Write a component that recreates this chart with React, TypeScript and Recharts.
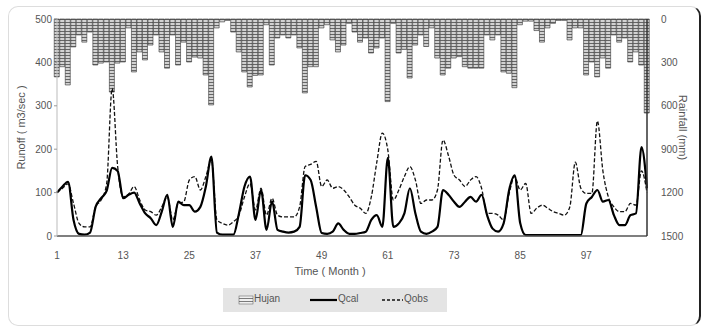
import { Bar, ComposedChart, Line, XAxis, YAxis } from 'recharts';

const months = Array.from({ length: 108 }, (_, i) => i + 1);
const monthTicks = [1, 13, 25, 37, 49, 61, 73, 85, 97];
const runoffTicks = [0, 100, 200, 300, 400, 500];
const rainTicks = [0, 300, 600, 900, 1200, 1500];

// rainfall (mm), hangs from the top on the reversed right axis
const hujan = [
  400, 330, 456, 193, 110, 160, 90, 318, 305, 297, 505, 305,
  297, 62, 366, 228, 283, 180, 110, 228, 340, 110, 318, 160,
  297, 263, 270, 387, 594, 62, 20, 10, 90, 228, 366, 470,
  390, 387, 40, 318, 131, 110, 131, 110, 200, 511, 330, 330,
  62, 40, 145, 228, 180, 30, 90, 160, 131, 235, 200, 131,
  571, 30, 235, 210, 408, 180, 110, 190, 62, 270, 387, 340,
  270, 260, 330, 340, 340, 340, 110, 145, 110, 366, 375, 475,
  40, 15, 15, 80, 160, 62, 30, 10, 10, 145, 62, 62,
  387, 297, 400, 270, 340, 110, 160, 131, 297, 228, 318, 650,
];

const qcal = [
  100, 114, 125, 37, 5, 3, 8, 67, 87, 104, 157, 150,
  87, 95, 100, 75, 52, 41, 25, 56, 95, 21, 79, 71,
  71, 56, 67, 114, 183, 8, 3, 3, 3, 52, 114, 137,
  37, 106, 14, 80, 14, 10, 8, 10, 21, 140, 129, 67,
  7, 5, 10, 29, 14, 5, 5, 7, 10, 37, 48, 21,
  180, 21, 29, 52, 110, 52, 10, 5, 10, 21, 106, 95,
  79, 67, 79, 90, 79, 95, 48, 17, 10, 29, 106, 140,
  30, 2, 2, 2, 2, 2, 2, 2, 2, 2, 2, 2,
  75, 90, 106, 79, 83, 48, 25, 25, 48, 52, 205, 110,
];

const qobs = [
  100, 110, 120, 75, 29, 21, 21, 67, 83, 120, 340, 160,
  90, 97, 114, 83, 60, 56, 48, 67, 90, 37, 75, 79,
  129, 137, 106, 137, 176, 37, 29, 25, 33, 48, 90, 121,
  60, 110, 48, 87, 48, 44, 44, 44, 67, 160, 165, 172,
  114, 129, 110, 114, 106, 90, 71, 64, 52, 90, 170, 237,
  198, 83, 106, 137, 160, 129, 75, 83, 83, 106, 221, 185,
  140, 129, 114, 129, 137, 110, 52, 52, 48, 37, 98, 137,
  106, 121, 52, 64, 71, 64, 56, 52, 48, 67, 170, 110,
  98, 98, 265, 150, 90, 67, 56, 56, 75, 71, 150, 100,
];

const data = months.map((m, i) => ({ month: m, hujan: hujan[i], qcal: qcal[i], qobs: qobs[i] }));

const FONT = '"Liberation Sans", Arial, sans-serif';
const tick = { fontSize: 10, fill: '#555', fontFamily: FONT };

export default function App() {
  return (
    <div style={{ position: 'absolute', left: 0, top: 0, width: 708, height: 329, background: '#fff', fontFamily: FONT }}>
      <div
        style={{
          position: 'absolute', left: 8, top: 6, width: 690, height: 318,
          border: '1px solid #ddd', borderRight: '2px solid #222', borderRadius: 10,
        }}
      />
      <ComposedChart width={708} height={329} data={data} margin={{ top: 19, right: 0, bottom: 63, left: 0 }}>
        <defs>
          <pattern id="hatch" width="5" height="3" patternUnits="userSpaceOnUse">
            <rect width="5" height="3" fill="#d2d2d2" />
            <line x1="0" y1="1.5" x2="5" y2="1.5" stroke="#666" strokeWidth="1" />
          </pattern>
        </defs>
        <XAxis
          dataKey="month" type="number" domain={[1, 108]} ticks={monthTicks} interval={0}
          tick={tick} tickLine={false} tickMargin={10} height={30}
          axisLine={{ stroke: '#555', strokeWidth: 1.5 }}
        />
        <YAxis
          yAxisId="q" domain={[0, 500]} ticks={runoffTicks} width={57} tick={tick}
          tickSize={3} tickLine={{ stroke: '#999' }} axisLine={{ stroke: '#bbb' }}
          label={{ value: 'Runoff  ( m3/sec )', angle: -90, position: 'insideLeft', offset: 21, style: { ...tick, fontSize: 11, textAnchor: 'middle' } }}
        />
        <YAxis
          yAxisId="rain" orientation="right" reversed domain={[0, 1500]} ticks={rainTicks} width={61}
          tick={tick} tickLine={false} tickMargin={8} axisLine={{ stroke: '#333', strokeWidth: 1.5 }}
          label={{ value: 'Rainfall (mm)', angle: 90, position: 'insideRight', offset: 25, style: { ...tick, fontSize: 11, textAnchor: 'middle' } }}
        />
        <Bar yAxisId="rain" dataKey="hujan" barSize={5} fill="url(#hatch)" stroke="#333" strokeWidth={0.6} isAnimationActive={false} />
        <Line yAxisId="q" type="monotone" dataKey="qobs" stroke="#111" strokeWidth={1.3} strokeDasharray="4 2" dot={false} isAnimationActive={false} />
        <Line yAxisId="q" type="monotone" dataKey="qcal" stroke="#000" strokeWidth={2.2} dot={false} isAnimationActive={false} />
      </ComposedChart>
      <div style={{ position: 'absolute', left: 0, top: 265, width: 660, textAlign: 'center', fontSize: 11, color: '#555' }}>
        Time ( Month )
      </div>
      <div
        style={{
          position: 'absolute', left: 223, top: 288, width: 224, height: 24, background: '#e4e4e4',
          display: 'flex', alignItems: 'center', fontSize: 10, color: '#555',
        }}
      >
        <svg width={230} height={24} style={{ position: 'absolute', left: 0, top: 0 }}>
          <defs>
            <pattern id="hatch2" width="5" height="3" patternUnits="userSpaceOnUse">
              <rect width="5" height="3" fill="#f0f0f0" />
              <line x1="0" y1="1.5" x2="5" y2="1.5" stroke="#7a7a7a" strokeWidth="1" />
            </pattern>
          </defs>
          <rect x={16} y={8} width={14} height={8} fill="url(#hatch2)" stroke="#555" strokeWidth={0.5} />
          <line x1={87} y1={12} x2={114} y2={12} stroke="#000" strokeWidth={2.2} />
          <line x1={159} y1={12} x2={180} y2={12} stroke="#111" strokeWidth={1.3} strokeDasharray="3 2" />
        </svg>
        <span style={{ position: 'absolute', left: 31, top: 5 }}>Hujan</span>
        <span style={{ position: 'absolute', left: 115, top: 5 }}>Qcal</span>
        <span style={{ position: 'absolute', left: 181, top: 5 }}>Qobs</span>
      </div>
    </div>
  );
}
